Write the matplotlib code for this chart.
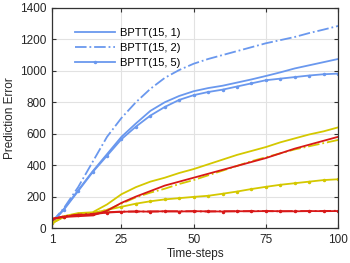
import numpy as np
import matplotlib
matplotlib.use('Agg')
import matplotlib.pyplot as plt

plt.rcParams['font.family'] = ['Liberation Sans', 'DejaVu Sans']

# time-steps (sampled every 5 steps)
steps = [1, 5, 10, 15, 20, 25, 30, 35, 40, 45, 50, 55, 60, 65, 70, 75, 80, 85, 90, 95, 100]

# blue family
blue_1 = [40, 120, 240, 360, 470, 580, 665, 745, 800, 840, 870, 890, 905, 925, 945, 967, 990, 1015, 1035, 1055, 1075]
blue_2 = [40, 125, 260, 420, 580, 700, 800, 885, 955, 1005, 1045, 1075, 1100, 1125, 1150, 1175, 1195, 1215, 1240, 1262, 1285]
blue_5 = [35, 115, 235, 355, 460, 565, 645, 715, 770, 815, 845, 865, 880, 900, 920, 940, 950, 960, 970, 978, 982]

# yellow family
yellow_1 = [30, 75, 95, 100, 150, 215, 260, 295, 320, 350, 375, 405, 435, 465, 490, 515, 545, 570, 595, 615, 640]
yellow_2 = [35, 70, 85, 95, 115, 155, 195, 225, 250, 280, 305, 335, 365, 395, 425, 450, 475, 500, 520, 540, 560]
yellow_5 = [30, 70, 90, 95, 115, 135, 155, 170, 182, 190, 198, 205, 218, 232, 248, 262, 275, 285, 295, 305, 310]

# red family
red_1 = [60, 70, 75, 80, 110, 160, 200, 235, 270, 295, 320, 345, 370, 395, 420, 445, 475, 505, 530, 555, 580]
red_2 = [55, 75, 85, 90, 100, 105, 104, 106, 105, 107, 106, 105, 107, 106, 108, 107, 106, 108, 107, 108, 110]
red_5 = [58, 72, 82, 88, 98, 103, 106, 104, 107, 105, 107, 106, 105, 107, 106, 108, 107, 106, 108, 107, 108]

blue = '#6a98ee'
yellow = '#d4c800'
red = '#d81818'
lw = 1.3

fig = plt.figure(figsize=(3.5, 2.63), dpi=100)
ax = fig.add_axes([0.149, 0.133, 0.817, 0.837])

ax.plot(steps, blue_1, color=blue, lw=lw, label='BPTT(15, 1)')
ax.plot(steps, blue_2, color=blue, lw=lw, ls='-.', label='BPTT(15, 2)')
ax.plot(steps, blue_5, color=blue, lw=lw, marker='.', ms=3, label='BPTT(15, 5)')

ax.plot(steps, yellow_1, color=yellow, lw=lw)
ax.plot(steps, yellow_2, color=yellow, lw=lw, ls='-.')
ax.plot(steps, yellow_5, color=yellow, lw=lw, marker='.', ms=3)

ax.plot(steps, red_2, color=red, lw=lw, ls='-.')
ax.plot(steps, red_5, color=red, lw=lw, marker='.', ms=3)
ax.plot(steps, red_1, color=red, lw=lw)

ax.set_xlim(1, 100)
ax.set_ylim(0, 1400)
ax.set_xticks([1, 25, 50, 75, 100])
ax.set_yticks(np.arange(0, 1401, 200))
ax.grid(True, color='#e2e2e2', lw=0.8)
ax.set_axisbelow(True)
ax.tick_params(direction='in', top=True, right=True, labelsize=8.5, length=3,
               color='#333333', labelcolor='#262626', pad=4)
for s in ax.spines.values():
    s.set_color('#333333')
    s.set_linewidth(0.9)

ax.set_xlabel('Time-steps', fontsize=8.5, color='#262626', labelpad=2)
ax.set_ylabel('Prediction Error', fontsize=8.5, color='#262626', labelpad=3)

ax.legend(loc='upper left', bbox_to_anchor=(0.065, 0.93), frameon=False,
          fontsize=8, handlelength=3.6, handletextpad=0.4, labelspacing=0.45,
          borderaxespad=0)

fig.savefig('out.png', dpi=100)
